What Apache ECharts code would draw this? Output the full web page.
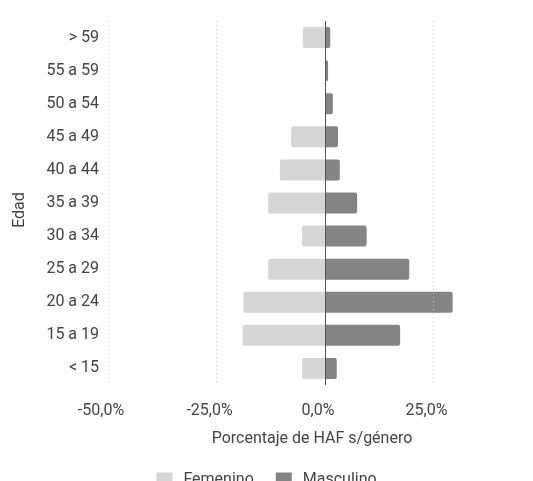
<!DOCTYPE html>
<html>
<head>
<meta charset="utf-8">
<script src="https://cdn.jsdelivr.net/npm/echarts@6/dist/echarts.min.js"></script>
<style>html,body{margin:0;padding:0;background:#fff}#c{width:533px;height:481px}</style>
</head>
<body>
<div id="c"></div>
<script>
const categories = ['> 59','55 a 59','50 a 54','45 a 49','40 a 44','35 a 39','30 a 34','25 a 29','20 a 24','15 a 19','< 15'];
const femenino = [-5.1, 0, 0, -7.8, -10.4, -13.1, -5.3, -13.1, -18.8, -19.0, -5.3];
const masculino = [1.2, 0.7, 1.8, 3.0, 3.4, 7.4, 9.6, 19.4, 29.4, 17.3, 2.7];
const gridTicks = [-50, -25, 25];
const xTitle = 'Porcentaje de HAF s/género';
const yTitle = 'Edad';

const fmt = v => v.toFixed(1).replace('.', ',') + '%';
const font = 'Roboto';
const txt = '#444';

const chart = echarts.init(document.getElementById('c'));
chart.setOption({
  animation: false,
  textStyle: {fontFamily: font},
  grid: {left: 108, right: 17, top: 21, bottom: 96, containLabel: false},
  legend: {
    data: ['Femenino', 'Masculino'],
    top: 467, left: 'center',
    icon: 'rect', itemWidth: 16, itemHeight: 15, itemGap: 22,
    textStyle: {fontFamily: font, fontSize: 16, color: txt, padding: [0, 0, 0, 6]}
  },
  xAxis: {
    type: 'value', min: -50, max: 44, interval: 25,
    name: xTitle, nameLocation: 'middle', nameGap: 46,
    nameTextStyle: {fontFamily: font, fontSize: 16, color: txt},
    axisLine: {show: false}, axisTick: {show: false}, splitLine: {show: false},
    axisLabel: {
      showMaxLabel: false, margin: 18, fontSize: 16, color: txt, fontFamily: font,
      padding: [0, 14, 0, 0],
      formatter: v => (Math.abs(v % 25) < 1e-9 ? fmt(v) : '')
    }
  },
  yAxis: {
    type: 'category', data: categories, inverse: true,
    name: yTitle, nameLocation: 'middle', nameGap: 80,
    nameTextStyle: {fontFamily: font, fontSize: 16, color: txt, padding: [0, 14, 0, 0]},
    axisLine: {show: false}, axisTick: {show: false}, splitLine: {show: false},
    axisLabel: {margin: 9, fontSize: 16, color: txt, fontFamily: font}
  },
  series: [
    {
      name: 'Femenino', type: 'bar', stack: 'a', data: femenino,
      barWidth: 21,
      itemStyle: {color: '#d6d6d6', borderRadius: [2, 0, 0, 2]},
      markLine: {
        silent: true, symbol: 'none', label: {show: false},
        lineStyle: {type: [1, 3], color: '#c8c8c8', width: 1},
        data: gridTicks.map(v => ({xAxis: v}))
      }
    },
    {
      name: 'Masculino', type: 'bar', stack: 'a', data: masculino,
      barWidth: 21,
      itemStyle: {color: '#848484', borderRadius: [0, 2, 2, 0]},
      markLine: {
        silent: true, symbol: 'none', label: {show: false},
        lineStyle: {type: 'solid', color: '#555', width: 1},
        data: [{xAxis: 0}]
      }
    }
  ]
});
</script>
</body>
</html>
